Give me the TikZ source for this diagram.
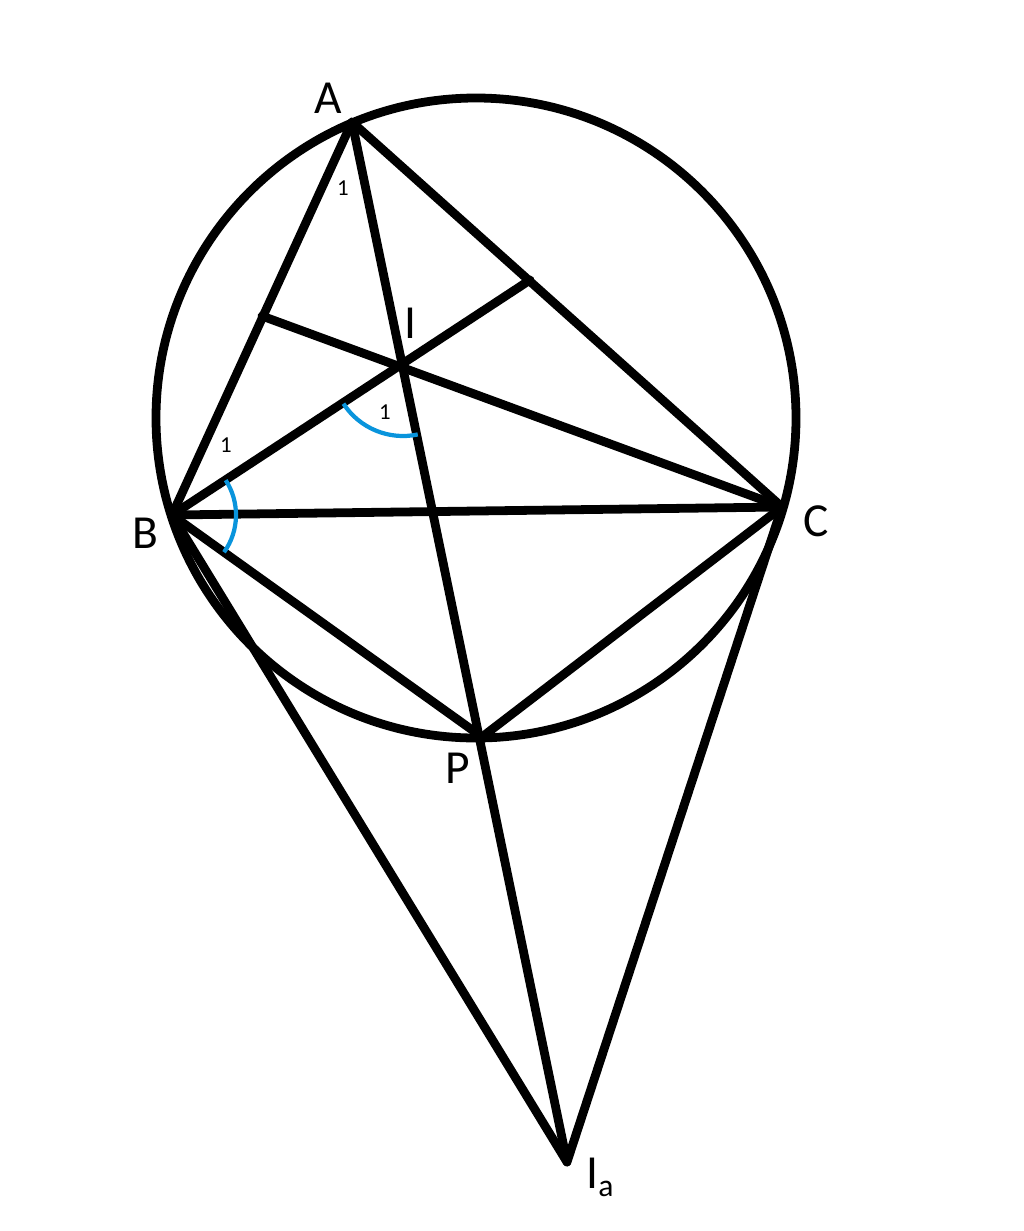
\documentclass[tikz,border=0pt]{standalone}
\usepackage{fontspec}
\setmainfont{Carlito}
\usetikzlibrary{calc}
\begin{document}
\begin{tikzpicture}[x=0.02cm,y=-0.02cm,
  seg/.style={line width=5pt,line cap=round,line join=round},
  anglemark/.style={draw=cyan!80!blue,line width=2.4pt},
  lbl/.style={font=\fontsize{27}{30}\selectfont,text=black,inner sep=0pt},
  one/.style={font=\fontsize{13}{15}\selectfont,text=black,inner sep=0pt}]
\useasboundingbox (0,0) rectangle (1024,1231);
\coordinate (O) at (476,418);
\coordinate (A) at (352,122);
\coordinate (B) at (172,515);
\coordinate (C) at (782,507);
\coordinate (I) at (403,365);
\coordinate (P) at (482,737);
\coordinate (Ia) at (567,1162);
\coordinate (D) at (262,316);
\coordinate (E) at (530,280);
\draw[seg] (O) circle[radius=320];
\draw[seg] (A) -- (B) -- (C) -- cycle;
\draw[seg] (A) -- (Ia);
\draw[seg] (C) -- (D);
\draw[seg] (B) -- (E);
\draw[seg] (B) -- (P) -- (C);
\draw[seg] (B) -- (Ia) -- (C);
\draw[anglemark] ($(B)+(-33:64)$) arc[start angle=-33,end angle=35.6,radius=64];
\draw[anglemark] ($(I)+(147:71)$) arc[start angle=147,end angle=78,radius=71];
\node[lbl] (lA) at (328,98) {A};
\node[lbl] (lB) at (145,533) {B};
\node[lbl] (lC) at (816,521) {C};
\node[lbl] (lI) at (410,323) {I};
\node[lbl] (lP) at (458,768) {P};
\node[lbl] (lIa) at (600,1177) {I\raisebox{-0.35ex}{\fontsize{18}{20}\selectfont a}};
\node[one] (o1) at (343,188) {1};
\node[one] (o2) at (385,412) {1};
\node[one] (o3) at (226,445) {1};
\end{tikzpicture}
\end{document}
